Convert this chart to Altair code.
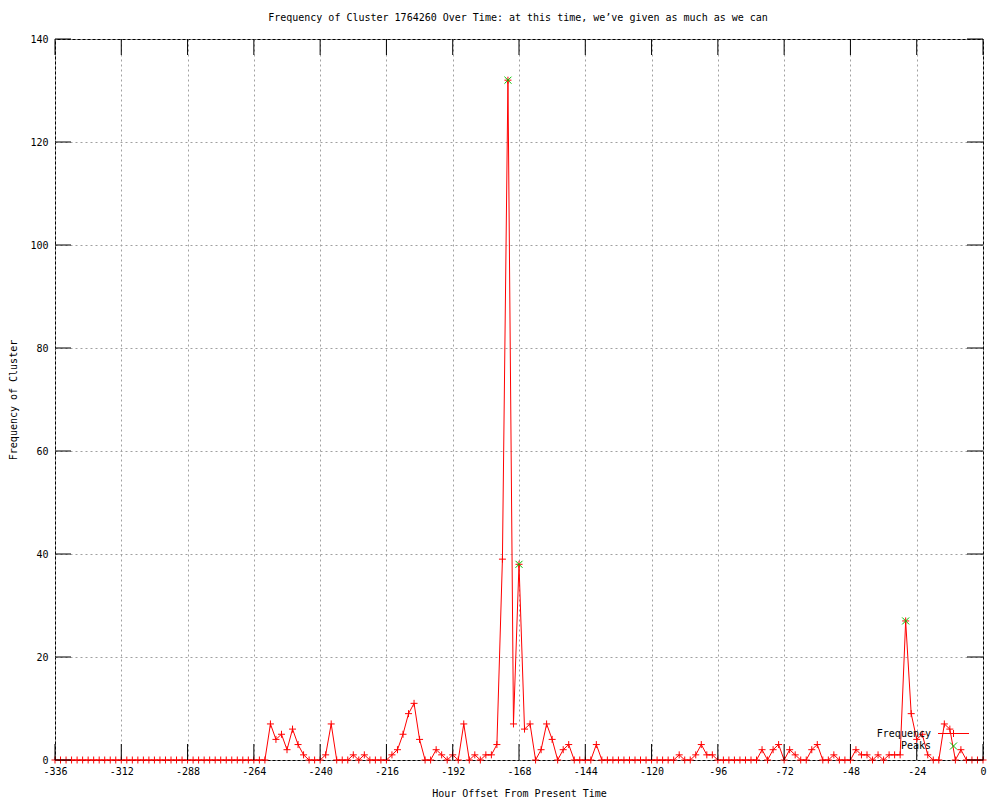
import altair as alt
import pandas as pd

# ---------------- data ----------------
hours = list(range(-336, 1, 2))
freq = [
    0, 0, 0, 0, 0, 0, 0, 0, 0, 0, 0, 0,          # -336 .. -314
    0, 0, 0, 0, 0, 0, 0, 0, 0, 0, 0, 0,          # -312 .. -290
    0, 0, 0, 0, 0, 0, 0, 0, 0, 0, 0, 0,          # -288 .. -266
    0, 0, 0, 7, 4, 5, 2, 6, 3, 1, 0, 0,          # -264 .. -242
    0, 1, 7, 0, 0, 0, 1, 0, 1, 0, 0, 0,          # -240 .. -218
    0, 1, 2, 5, 9, 11, 4, 0, 0, 2, 1, 0,         # -216 .. -194
    1, 0, 7, 0, 1, 0, 1, 1, 3, 39, 132, 7,       # -192 .. -170
    38, 6, 7, 0, 2, 7, 4, 0, 2, 3, 0, 0,         # -168 .. -146
    0, 0, 3, 0, 0, 0, 0, 0, 0, 0, 0, 0,          # -144 .. -122
    0, 0, 0, 0, 0, 1, 0, 0, 1, 3, 1, 1,          # -120 .. -98
    0, 0, 0, 0, 0, 0, 0, 0, 2, 0, 2, 3,          # -96 .. -74
    0, 2, 1, 0, 0, 2, 3, 0, 0, 1, 0, 0,          # -72 .. -50
    0, 2, 1, 1, 0, 1, 0, 1, 1, 1, 27, 9,         # -48 .. -26
    4, 5, 1, 0, 0, 7, 6, 0, 2, 0, 0, 0,          # -24 .. -2
    0,                                           # 0
]
peak_hours = [-172, -168, -28]
peak_values = [132, 38, 27]

x_ticks = list(range(-336, 1, 24))
y_ticks = list(range(0, 141, 20))

title_text = "Frequency of Cluster 1764260 Over Time: at this time, we\u2019ve given as much as we can"
x_title = "Hour Offset From Present Time"
y_title = "Frequency of Cluster"
legend_labels = ["Frequency", "Peaks"]

# ---------------- styling ----------------
FONT = "DejaVu Sans Mono"
W, H = 928, 721
RED = "#ff0000"
GREEN = "#00c000"
PLUS = "M-1,0L1,0M0,-1L0,1"
CROSS = "M-1,-1L1,1M-1,1L1,-1"
TICK = 16

df = pd.DataFrame({"hour": hours, "freq": freq})
peaks = pd.DataFrame({"hour": peak_hours, "freq": peak_values})
xt = pd.DataFrame({"hour": x_ticks})
yt = pd.DataFrame({"freq": y_ticks})

xs = alt.Scale(domain=[-336, 0], nice=False, zero=False)
ys = alt.Scale(domain=[0, 140], nice=False, zero=True)

x_axis = alt.Axis(
    values=x_ticks, grid=True, gridColor="#a0a0a0", gridDash=[2, 3], gridWidth=1,
    domain=False, ticks=False, labelPadding=6, labelFont=FONT, labelFontSize=10,
    labelColor="black", labelExpr="'' + datum.value", labelFlush=False,
    title=x_title, titleFont=FONT, titleFontSize=10, titleFontWeight="normal",
    titleColor="black", titleX=W / 2, titleY=33, titleBaseline="middle", titleAlign="center",
)
y_axis = alt.Axis(
    values=y_ticks, grid=True, gridColor="#a0a0a0", gridDash=[2, 3], gridWidth=1,
    domain=False, ticks=False, labelPadding=7, labelFont=FONT, labelFontSize=10,
    labelColor="black", labelExpr="'' + datum.value", labelFlush=False,
    title=y_title, titleFont=FONT, titleFontSize=10, titleFontWeight="normal",
    titleColor="black", titleX=-42, titleY=H / 2, titleAngle=-90,
    titleBaseline="middle", titleAlign="center",
)

X = alt.X("hour:Q", scale=xs, axis=x_axis)
Y = alt.Y("freq:Q", scale=ys, axis=y_axis)

line = alt.Chart(df).mark_line(color=RED, strokeWidth=1, interpolate="linear").encode(x=X, y=Y)
pts = alt.Chart(df).mark_point(
    shape=PLUS, size=49, filled=False, stroke=RED, strokeWidth=1, opacity=1
).encode(x=X, y=Y)
pk = alt.Chart(peaks).mark_point(
    shape=CROSS, size=49, filled=False, stroke=GREEN, strokeWidth=1, opacity=1
).encode(x=X, y=Y)

xt_bot = alt.Chart(xt).mark_rule(color="black", strokeWidth=1).encode(
    x=X, y=alt.value(H), y2=alt.value(H - TICK))
xt_top = alt.Chart(xt).mark_rule(color="black", strokeWidth=1).encode(
    x=X, y=alt.value(0), y2=alt.value(TICK))
yt_left = alt.Chart(yt).mark_rule(color="black", strokeWidth=1).encode(
    y=Y, x=alt.value(0), x2=alt.value(TICK))
yt_right = alt.Chart(yt).mark_rule(color="black", strokeWidth=1).encode(
    y=Y, x=alt.value(W), x2=alt.value(W - TICK))

# chart title (as a text mark, placed above the plot)
title_mark = alt.Chart(pd.DataFrame({"label": [title_text]})).mark_text(
    font=FONT, fontSize=10, align="center", baseline="middle", color="black"
).encode(x=alt.value(W / 2 - 1), y=alt.value(-21), text="label:N")

# legend (gnuplot style: label left, sample right)
leg_text1 = alt.Chart(pd.DataFrame({"label": [legend_labels[0]]})).mark_text(
    font=FONT, fontSize=10, align="right", baseline="middle", color="black"
).encode(x=alt.value(876), y=alt.value(694.5), text="label:N")
leg_text2 = alt.Chart(pd.DataFrame({"label": [legend_labels[1]]})).mark_text(
    font=FONT, fontSize=10, align="right", baseline="middle", color="black"
).encode(x=alt.value(876), y=alt.value(707), text="label:N")
leg_line = alt.Chart(pd.DataFrame({"a": [0]})).mark_rule(color=RED, strokeWidth=1).encode(
    x=alt.value(883), x2=alt.value(914), y=alt.value(694.5))
leg_plus = alt.Chart(pd.DataFrame({"a": [0]})).mark_point(
    shape=PLUS, size=49, filled=False, stroke=RED, strokeWidth=1, opacity=1
).encode(x=alt.value(898.5), y=alt.value(694.5))
leg_cross = alt.Chart(pd.DataFrame({"a": [0]})).mark_point(
    shape=CROSS, size=49, filled=False, stroke=GREEN, strokeWidth=1, opacity=1
).encode(x=alt.value(898.5), y=alt.value(707))

chart = alt.layer(
    line, pts, pk, xt_bot, xt_top, yt_left, yt_right, title_mark,
    leg_text1, leg_text2, leg_line, leg_plus, leg_cross,
).properties(
    width=W, height=H,
    autosize=alt.AutoSizeParams(type="none"),
    padding={"left": 47, "top": 31, "right": 9, "bottom": 40},
    background="white",
).configure_view(
    stroke="black", strokeWidth=1
)

chart.save("out.html", embed_options={"renderer": "svg", "actions": False})
